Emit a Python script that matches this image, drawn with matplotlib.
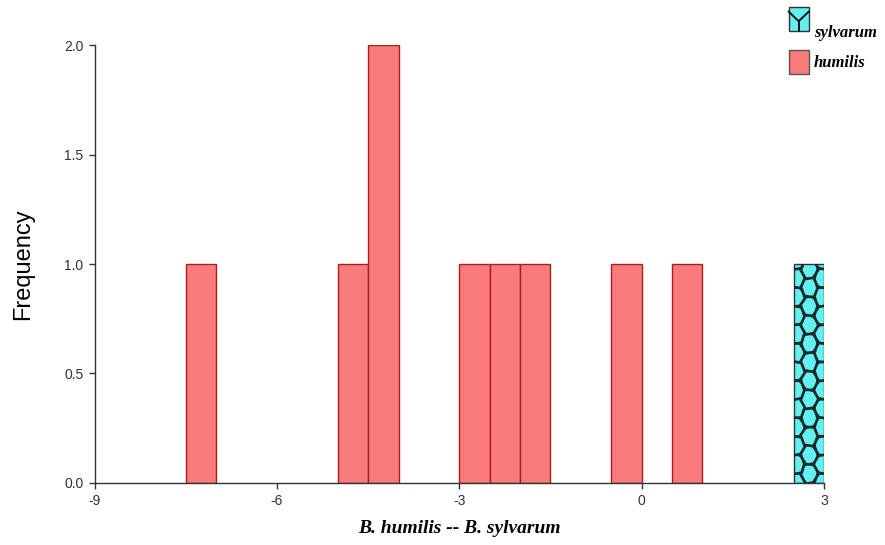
import numpy as np
import matplotlib
matplotlib.use('Agg')
import matplotlib.pyplot as plt
from matplotlib.patches import Polygon, Rectangle
from matplotlib.lines import Line2D
from matplotlib.legend_handler import HandlerBase

# histogram bins (left edges) and counts, bin width 0.5
BIN_WIDTH = 0.5
humilis_bins = [-7.5, -5.0, -4.5, -3.0, -2.5, -2.0, -0.5, 0.5]
humilis_counts = [1, 1, 2, 1, 1, 1, 1, 1]
sylvarum_bins = [2.5]
sylvarum_counts = [1]

x_ticks = [-9, -6, -3, 0, 3]
y_ticks = [0.0, 0.5, 1.0, 1.5, 2.0]

RED = '#fa7b7b'
RED_EDGE = '#b01c1c'
CYAN = '#62f0f0'

tick_font = ['Liberation Sans Narrow', 'Liberation Sans', 'DejaVu Sans']

fig = plt.figure(figsize=(8.85, 5.45), dpi=100)
ax = fig.add_axes([0.107, 0.114, 0.824, 0.803])

ax.bar(humilis_bins, humilis_counts, width=BIN_WIDTH, align='edge',
       color=RED, edgecolor=RED_EDGE, linewidth=1.0, zorder=2)
syl = ax.bar(sylvarum_bins, sylvarum_counts, width=BIN_WIDTH, align='edge',
             color=CYAN, edgecolor='#333333', linewidth=1.0, zorder=2)


# cell-like pattern on the sylvarum bar (flat-top hex grid clipped to bar)
def cell_pattern(ax, rect, ncols=2.3, cell_h=0.085):
    x0, y0 = rect.get_x(), rect.get_y()
    w, h = rect.get_width(), rect.get_height()
    rx = w / ncols / 1.5
    ry = cell_h / 2 / np.sin(np.pi / 3)
    ang = np.linspace(0, 2 * np.pi, 7)[:-1]
    col = 0
    xc = x0 + rx * 0.3
    while xc < x0 + w + rx:
        yc = y0 + (cell_h / 2 if col % 2 else 0)
        k = 0
        while yc < y0 + h + cell_h:
            tw = 0.2 * np.sin(k * 1.7 + col * 2.3)
            verts = np.column_stack([xc + rx * np.cos(ang + tw),
                                     yc + ry * np.sin(ang + tw)])
            p = Polygon(verts, closed=True, facecolor='none',
                        edgecolor='#1a2a2a', linewidth=1.7, zorder=3)
            ax.add_patch(p)
            p.set_clip_path(rect)
            yc += cell_h
            k += 1
        xc += rx * 1.5
        col += 1


for r in syl:
    cell_pattern(ax, r)

ax.set_xlim(-9, 3)
ax.set_ylim(0, 2)
ax.set_xticks(x_ticks)
ax.set_xticklabels([str(t) for t in x_ticks], family=tick_font, fontsize=10,
                   color='#333333')
ax.set_yticks(y_ticks)
ax.set_yticklabels([f'{t:.1f}' for t in y_ticks], family=tick_font,
                   fontsize=10, color='#333333')
ax.spines['top'].set_visible(False)
ax.spines['right'].set_visible(False)
for s in ['left', 'bottom']:
    ax.spines[s].set_color('#333333')
    ax.spines[s].set_linewidth(1.0)
ax.tick_params(length=4, width=1.0, color='#333333', pad=4)

ax.set_ylabel('Frequency', fontsize=17, family='Liberation Sans', labelpad=22)
ax.set_xlabel('B. humilis -- B. sylvarum', fontsize=14,
              family='Liberation Serif', style='italic', weight='bold',
              labelpad=9)


class CellHandler(HandlerBase):
    def create_artists(self, legend, orig, xd, yd, width, height, fontsize, trans):
        rect = Rectangle((xd, yd), width, height, facecolor=CYAN,
                         edgecolor='#333333', linewidth=1.0, transform=trans)
        cx, cy = xd + width / 2, yd + height * 0.4
        l1 = Line2D([xd, cx, xd + width], [yd + height * 0.8, cy, yd + height * 0.8],
                    color='#111111', linewidth=1.4, transform=trans)
        l2 = Line2D([cx, cx], [cy, yd], color='#111111', linewidth=1.4,
                    transform=trans)
        return [rect, l1, l2]


syl_handle = Rectangle((0, 0), 1, 1)
hum_handle = Rectangle((0, 0), 1, 1, facecolor=RED, edgecolor='#555555')
leg = fig.legend([syl_handle, hum_handle], ['sylvarum', 'humilis'],
                 handler_map={syl_handle: CellHandler()},
                 loc='upper left', bbox_to_anchor=(0.878, 0.985),
                 frameon=False, handlelength=1.2, handleheight=1.8,
                 handletextpad=0.3, labelspacing=0.4, borderpad=0.2,
                 prop={'family': 'Liberation Serif', 'style': 'italic',
                       'weight': 'bold', 'size': 12})

fig.savefig('out.png', dpi=100)
